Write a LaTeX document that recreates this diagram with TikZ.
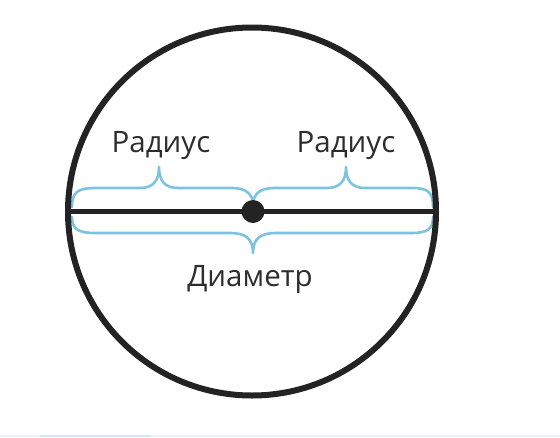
\documentclass[tikz,border=0pt]{standalone}
\usepackage{fontspec}
\setmainfont{Open Sans}
\definecolor{ink}{RGB}{35,35,35}
\definecolor{txt}{RGB}{45,45,45}
\definecolor{brc}{RGB}{125,195,222}
\definecolor{faint}{RGB}{232,245,248}
\definecolor{faint2}{RGB}{205,233,241}
\tikzset{
  bracepath/.style={draw=brc, line width=2.6pt, line cap=round, line join=round},
  lbl/.style={text=txt, font=\fontsize{29.5}{34}\selectfont, inner sep=0pt, anchor=base},
}
\begin{document}
\begin{tikzpicture}[x=1pt,y=-1pt]
\useasboundingbox (0,0) rectangle (560,437);
\fill[white] (0,0) rectangle (560,437);
\fill[faint] (0,434.5) rectangle (560,437);
\fill[faint2] (40,435) rectangle (150,437);
% braces
\draw[bracepath] (72,207) .. controls (72,192) and (78,188) .. (95,188) -- (140,188)
  .. controls (153,188) and (159,181) .. (159,167)
  .. controls (159,181) and (165,188) .. (178,188) -- (232,188)
  .. controls (246,188) and (252,194) .. (253,203);
\draw[bracepath] (253,203) .. controls (254,194) and (260,188) .. (274,188) -- (327,188)
  .. controls (340,188) and (346,181) .. (346,167)
  .. controls (346,181) and (352,188) .. (365,188) -- (412,188)
  .. controls (428,188) and (433,192) .. (433,207);
\draw[bracepath] (72,217) .. controls (72,229) and (78,233) .. (95,233) -- (230,233)
  .. controls (246,233) and (253,239) .. (253,253)
  .. controls (253,239) and (260,233) .. (276,233) -- (411,233)
  .. controls (428,233) and (433,229) .. (433,217);
% circle, diameter, centre
\node[draw=ink, circle, line width=6pt, minimum size=368pt, inner sep=0pt, outer sep=0pt] (c) at (252,211.5) {};
\draw[ink, line width=5pt] (c.west) -- (c.east);
\node[fill=ink, circle, minimum size=23pt, inner sep=0pt] (o) at (253,211.5) {};
% labels
\node[lbl] (r1) at (161,152) {Радиус};
\node[lbl] (r2) at (346,152) {Радиус};
\node[lbl] (d) at (250,286) {Диаметр};
\end{tikzpicture}
\end{document}
